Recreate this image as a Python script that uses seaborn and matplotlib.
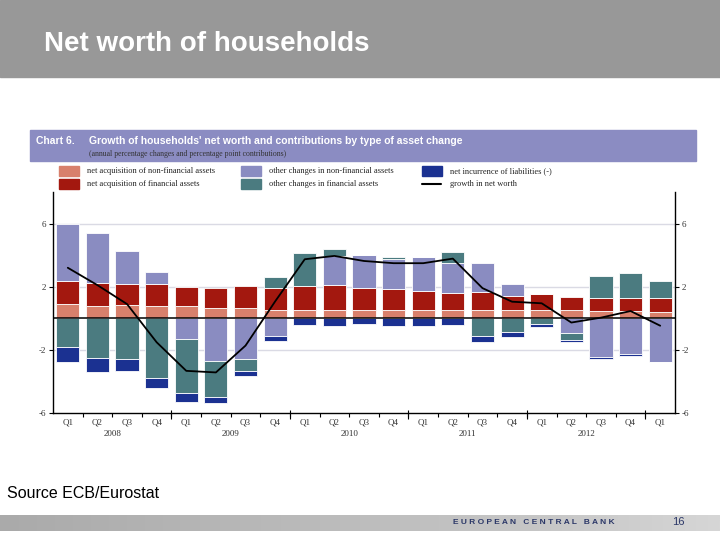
import numpy as np
import pandas as pd
import matplotlib
matplotlib.use('Agg')
import matplotlib.pyplot as plt
import matplotlib.transforms as mtransforms
from matplotlib.patches import Rectangle
from matplotlib.lines import Line2D
from matplotlib.colors import LinearSegmentedColormap
import seaborn as sns

# dados (pontos percentuais)
quarters = ['Q1', 'Q2', 'Q3', 'Q4'] * 5 + ['Q1']
years = ['2008', '2009', '2010', '2011', '2012']

acq_nonfin = [0.88, 0.80, 0.82, 0.76, 0.76, 0.67, 0.63, 0.54, 0.52, 0.52, 0.52,
              0.52, 0.52, 0.52, 0.52, 0.52, 0.52, 0.52, 0.44, 0.44, 0.38]
acq_fin = [1.47, 1.43, 1.36, 1.42, 1.20, 1.26, 1.39, 1.39, 1.54, 1.58, 1.37,
           1.33, 1.20, 1.06, 1.12, 0.91, 0.99, 0.82, 0.86, 0.86, 0.88]
oth_nonfin = [3.65, 3.15, 2.07, 0.76, -1.31, -2.71, -2.61, -1.10, 0.0, 1.85, 2.10,
              1.89, 2.15, 1.91, 1.85, 0.75, 0.0, -0.93, -2.48, -2.27, -2.78]
oth_fin = [-1.83, -2.52, -2.57, -3.79, -3.42, -2.26, -0.73, 0.66, 2.06, 0.47, 0.0,
           0.17, 0.0, 0.71, -1.10, -0.88, -0.36, -0.44, 1.35, 1.56, 1.09]
liabilities = [-0.95, -0.89, -0.75, -0.63, -0.55, -0.38, -0.34, -0.33, -0.40, -0.47, -0.36,
               -0.47, -0.47, -0.40, -0.42, -0.30, -0.19, -0.15, -0.09, -0.13, -0.02]
net_worth = [3.20, 2.10, 0.90, -1.52, -3.33, -3.43, -1.73, 1.07, 3.74, 3.95, 3.63,
             3.49, 3.49, 3.78, 1.91, 1.05, 0.95, -0.27, 0.04, 0.46, -0.47]

labels = ['net acquisition of non-financial assets', 'net acquisition of financial assets',
          'other changes in non-financial assets', 'other changes in financial assets',
          'net incurrence of liabilities (-)']
cores = ['#d8806c', '#a3180f', '#8a8cc1', '#4b7b80', '#1b3191']

df = pd.DataFrame({
    'acq_nonfin': acq_nonfin,
    'acq_fin': acq_fin,
    'oth_nonfin': oth_nonfin,
    'oth_fin': oth_fin,
    'liabilities': liabilities,
})
pos = np.arange(len(quarters))

sns.set_style('white')
plt.rcParams['font.family'] = ['Liberation Sans', 'DejaVu Sans']
serif = ['Liberation Serif', 'DejaVu Serif']

fig = plt.figure(figsize=(7.2, 5.4), dpi=100)

def fy(y):
    return 1 - y / 540

# faixa do titulo do slide
fig.patches.append(Rectangle((0, fy(77)), 1, 77 / 540, transform=fig.transFigure,
                             color='#989898', zorder=0))
fig.text(44 / 720, fy(44), 'Net worth of households', color='white', fontsize=20,
         fontweight='bold', va='center')

# cabecalho do grafico
fig.patches.append(Rectangle((30 / 720, fy(161)), 666 / 720, 31 / 540, transform=fig.transFigure,
                             color='#8b8cc2', zorder=0))
fig.text(36 / 720, fy(141), 'Chart 6.', color='white', fontsize=7.5, fontweight='bold',
         va='center', family=['Liberation Sans Narrow', 'Liberation Sans'])
fig.text(89 / 720, fy(141), "Growth of households' net worth and contributions by type of asset change",
         color='white', fontsize=7.5, fontweight='bold', va='center',
         family=['Liberation Sans Narrow', 'Liberation Sans'])
fig.text(89 / 720, fy(154), '(annual percentage changes and percentage point contributions)',
         color='#333333', fontsize=5.6, va='center', family=serif)

# legenda
leg_pos = [(59, 171), (59, 184), (241, 171), (241, 184), (422, 171)]
for (lx, ly), lab, c in zip(leg_pos, labels, cores):
    fig.patches.append(Rectangle((lx / 720, fy(ly + 5)), 20 / 720, 10 / 540,
                                 transform=fig.transFigure, color=c))
    fig.text((lx + 28) / 720, fy(ly), lab, fontsize=6, va='center', family=serif, color='#222222')
fig.lines.append(Line2D([422 / 720, 441 / 720], [fy(184), fy(184)], transform=fig.transFigure,
                        color='black', lw=1.5))
fig.text(450 / 720, fy(184), 'growth in net worth', fontsize=6, va='center', family=serif,
         color='#222222')

# area do grafico
ax = fig.add_axes([53 / 720, fy(413), 622 / 720, 221 / 540])
for y in (6, 2, -2):
    ax.axhline(y, color='#dadae4', lw=1, zorder=0)

pos_bottom = np.zeros(len(pos))
neg_bottom = np.zeros(len(pos))
for col, c in zip(df.columns, cores):
    vals = df[col].to_numpy()
    bottom = np.where(vals >= 0, pos_bottom, neg_bottom)
    ax.bar(pos, vals, bottom=bottom, width=0.78, color=c, edgecolor='white',
           linewidth=0.6, zorder=2)
    pos_bottom += np.clip(vals, 0, None)
    neg_bottom += np.clip(vals, None, 0)

ax.axhline(0, color='black', lw=1.1, zorder=3)
sns.lineplot(x=pos, y=net_worth, color='black', lw=1.3, ax=ax, zorder=4)

ax.set_xlim(-0.5, len(pos) - 0.5)
ax.set_ylim(-6, 8)
ax.set_yticks([-6, -2, 2, 6])
ax.set_yticklabels(['-6', '-2', '2', '6'], family=serif, fontsize=6.5, color='#333333')
ax.tick_params(axis='y', left=True, right=True, labelright=True, length=3, width=0.8,
               pad=2, color='black')
ax.set_xticks(pos)
ax.set_xticklabels(quarters, family=serif, fontsize=6.5, color='#333333')
ax.tick_params(axis='x', which='major', length=0, pad=4)
ax.set_xticks(np.arange(0.5, len(pos) - 1, 1), minor=True)
ax.tick_params(axis='x', which='minor', bottom=True, length=3, width=0.8, color='black')

trans = mtransforms.blended_transform_factory(ax.transData, ax.transAxes)
ax.vlines([3.5, 7.5, 11.5, 15.5, 19.5], -0.025, 0.015, transform=trans, color='black',
          lw=0.8, clip_on=False)
for i, ano in enumerate(years):
    ax.text(4 * i + 1.5, -0.095, ano, transform=trans, ha='center', va='center',
            family=serif, fontsize=6.5, color='#333333')

ax.spines['top'].set_visible(False)
for s in ('left', 'right', 'bottom'):
    ax.spines[s].set_color('black')
    ax.spines[s].set_linewidth(1)
ax.set_xlabel('')
ax.set_ylabel('')

# fonte e rodape
fig.text(7 / 720, fy(493), 'Source ECB/Eurostat', fontsize=11.5, va='center', color='black')

fax = fig.add_axes([0, fy(531), 1, 16 / 540])
rodape = LinearSegmentedColormap.from_list('rodape', ['#aaaaaa', '#b4b4b4', '#bdbdbd',
                                                      '#c6c6c6', '#d6d6d6'])
fax.imshow(np.linspace(0, 1, 256).reshape(1, -1), aspect='auto', cmap=rodape,
           extent=(0, 1, 0, 1))
fax.axis('off')
fig.text(453 / 720, fy(523), 'E U R O P E A N   C E N T R A L   B A N K', fontsize=6,
         fontweight='bold', color='#2c3868', va='center')
fig.text(672 / 720, fy(522), '16', fontsize=8, color='#2c3868', va='center')

fig.savefig('out.png', dpi=100)
